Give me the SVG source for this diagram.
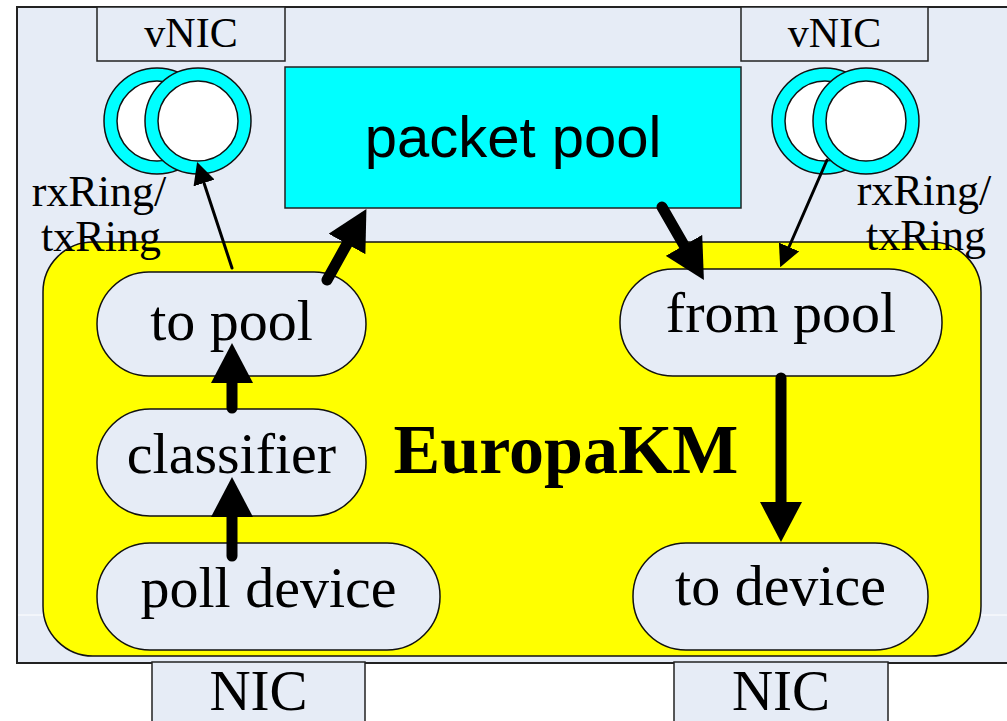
<svg xmlns="http://www.w3.org/2000/svg" width="1007" height="721" viewBox="0 0 1007 721">
  <defs>
    <style>
      .panel { fill: #E6ECF6; stroke: #222; stroke-width: 2; }
      .box { fill: #E6ECF6; stroke: #222; stroke-width: 1.5; }
      .pill { fill: #E6ECF6; stroke: #111; stroke-width: 1.5; }
      .ring { fill: #00FFFF; stroke: #111; stroke-width: 1.5; }
      .hole { fill: #FFFFFF; stroke: #111; stroke-width: 1.5; }
      .serif { font-family: "Liberation Serif", "Times New Roman", serif; fill: #000; text-anchor: middle; }
      .sans { font-family: "Liberation Sans", Arial, sans-serif; fill: #000; text-anchor: middle; }
      .node-label { font-size: 58px; }
      .ring-label { font-size: 44px; }
      .thick { stroke: #000; stroke-width: 11; stroke-linecap: round; fill: none; }
      .thin { stroke: #000; stroke-width: 3; stroke-linecap: round; fill: none; }
    </style>
    <!-- heads sit past the line end: the base of the triangle is placed at the end point -->
    <marker id="headBig" markerUnits="userSpaceOnUse" viewBox="0 0 40 42" markerWidth="40" markerHeight="42" refX="0" refY="21" orient="auto">
      <path d="M0,0 L40,21 L0,42 z" fill="#000"/>
    </marker>
    <marker id="headSmall" markerUnits="userSpaceOnUse" viewBox="0 0 22 22" markerWidth="22" markerHeight="22" refX="0" refY="11" orient="auto">
      <path d="M0,0 L22,11 L0,22 z" fill="#000"/>
    </marker>
  </defs>

  <!-- host background -->
  <g id="host">
    <rect class="panel" x="17" y="7" width="1000" height="656"/>
    <line x1="18" y1="615" x2="43" y2="615" stroke="#ffffff" stroke-width="1"/>
    <line x1="981" y1="615" x2="1007" y2="615" stroke="#ffffff" stroke-width="1"/>
  </g>

  <!-- virtual NICs with their rings -->
  <g id="vnic-left">
    <rect class="box" x="97" y="7" width="188" height="54"/>
    <text class="serif" x="191" y="47" font-size="42">vNIC</text>
  </g>
  <g id="vnic-right">
    <rect class="box" x="741" y="7" width="187" height="54"/>
    <text class="serif" x="834.5" y="47" font-size="42">vNIC</text>
  </g>

  <g id="rings-left">
    <circle class="ring" cx="157" cy="121" r="53"/>
    <circle class="hole" cx="157" cy="121" r="40"/>
    <circle class="ring" cx="198" cy="121" r="53"/>
    <circle class="hole" cx="198" cy="121" r="40"/>
  </g>
  <g id="rings-right">
    <circle class="ring" cx="825" cy="121" r="53"/>
    <circle class="hole" cx="825" cy="121" r="40"/>
    <circle class="ring" cx="866" cy="121" r="53"/>
    <circle class="hole" cx="866" cy="121" r="40"/>
  </g>

  <!-- shared packet pool -->
  <g id="packet-pool">
    <rect x="285" y="67" width="456" height="141" fill="#00FFFF" stroke="#222" stroke-width="1.5"/>
    <text class="sans" x="513" y="157" font-size="58">packet pool</text>
  </g>

  <!-- kernel module -->
  <g id="europakm">
    <rect x="43" y="242" width="938" height="414" rx="50" ry="50" fill="#FFFF00" stroke="#111" stroke-width="1.5"/>
    <text class="serif" x="566" y="473" font-size="70" font-weight="bold">EuropaKM</text>
  </g>

  <g id="to-pool">
    <rect class="pill" x="97" y="272" width="269" height="104" rx="52" ry="52"/>
    <text class="serif node-label" x="231.5" y="340">to pool</text>
  </g>
  <g id="classifier">
    <rect class="pill" x="97" y="409" width="269" height="107" rx="53" ry="53"/>
    <text class="serif node-label" x="231.5" y="473">classifier</text>
  </g>
  <g id="poll-device">
    <rect class="pill" x="97" y="543" width="343" height="107" rx="53" ry="53"/>
    <text class="serif node-label" x="268.5" y="607">poll device</text>
  </g>
  <g id="from-pool">
    <rect class="pill" x="620" y="269" width="322" height="107" rx="53" ry="53"/>
    <text class="serif node-label" x="781" y="332">from pool</text>
  </g>
  <g id="to-device">
    <rect class="pill" x="633" y="543" width="295" height="107" rx="53" ry="53"/>
    <text class="serif node-label" x="780.5" y="605">to device</text>
  </g>

  <!-- ring labels -->
  <g id="ring-label-left">
    <text class="serif ring-label" x="99" y="206">rxRing/</text>
    <text class="serif ring-label" x="101" y="251">txRing</text>
  </g>
  <g id="ring-label-right">
    <text class="serif ring-label" x="924" y="205">rxRing/</text>
    <text class="serif ring-label" x="926" y="250">txRing</text>
  </g>

  <!-- NICs below the host -->
  <g id="nic-left">
    <rect class="box" x="152" y="662" width="213" height="70"/>
    <text class="serif" x="258.5" y="710" font-size="57">NIC</text>
  </g>
  <g id="nic-right">
    <rect class="box" x="674" y="662" width="214" height="70"/>
    <text class="serif" x="781" y="710" font-size="57">NIC</text>
  </g>

  <!-- data flow -->
  <g id="connectors">
    <line class="thick" x1="232" y1="556" x2="232" y2="517" marker-end="url(#headBig)"/>
    <line class="thick" x1="232" y1="408" x2="232" y2="383" marker-end="url(#headBig)"/>
    <line class="thick" x1="327" y1="280" x2="347" y2="244" marker-end="url(#headBig)"/>
    <line class="thick" x1="662" y1="207" x2="684" y2="245.3" marker-end="url(#headBig)"/>
    <line class="thick" x1="781" y1="378" x2="781" y2="502" stroke-linecap="butt" marker-end="url(#headBig)"/>
    <line class="thin" x1="232" y1="268" x2="204" y2="183" marker-end="url(#headSmall)"/>
    <line class="thin" x1="827" y1="160" x2="789" y2="247" marker-end="url(#headSmall)"/>
  </g>
</svg>
